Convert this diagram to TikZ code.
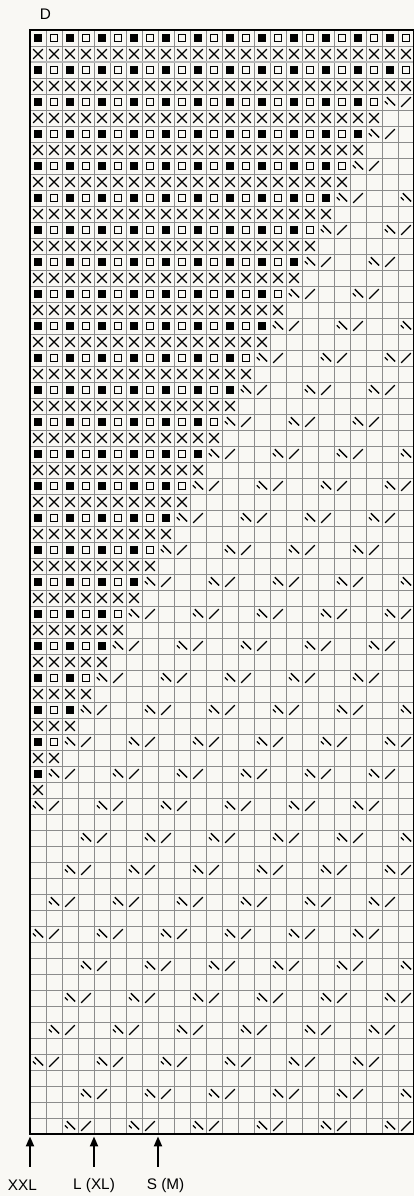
\documentclass[tikz,border=0pt]{standalone}
\usepackage{fontspec}
\setmainfont{Liberation Sans}
\usetikzlibrary{arrows.meta}

\definecolor{paper}{RGB}{249,248,244}

\begin{document}
\begin{tikzpicture}[
  x=12pt, y=-12pt,
  font=\fontsize{11.5}{13}\selectfont,
  gridln/.style={black!45,line width=0.7pt},
  sepln/.style={black!28,line width=1.6pt},
  frame/.style={line width=2.2pt},
  sizearr/.style={-{Triangle[length=7.5pt,width=6pt]},line width=1.5pt},
  kst/.pic={\fill (-.22,-.22) rectangle (.22,.22);},
  pst/.pic={\draw[line width=1.2pt] (-.22,-.22) rectangle (.22,.22);},
  xst/.pic={\draw[line width=1pt] (-.3,-.3) -- (.3,.3) (-.3,.3) -- (.3,-.3);},
  ssk/.pic={\draw[line width=1pt] (-.2,-.3) -- (.32,.22) (-.32,-.04) -- (-.14,.14);},
  k2tog/.pic={\draw[line width=1pt] (-.3,.3) -- (.3,-.3);}
]
\useasboundingbox[fill=paper] (-1.875,-1.875) rectangle (24,72.875);

% chart grid
\foreach \c in {1,...,23} \draw[gridln] (\c,0) -- (\c,69);
\foreach \r in {1,...,68} \draw[gridln] (0,\r) -- (24,\r);
\draw[sepln] (0,2) -- (24,2);

% right-side rows: knit/purl, then decreases
\foreach \r in {1,3,...,69} {
  \pgfmathtruncatemacro\k{\r<5 ? 24 : 22-(\r-5)/2}
  \ifnum\k>0
    \foreach \c in {1,...,\k} {
      \ifodd\c\relax \pic at (\c-.5,\r-.5) {kst}; \else \pic at (\c-.5,\r-.5) {pst}; \fi
    }
  \fi
  \ifnum\r>3
    \foreach \m in {0,...,9} {
      \pgfmathtruncatemacro\c{\k+1+4*\m}
      \ifnum\c>0
        \ifnum\c<25 \pic at (\c-.5,\r-.5) {ssk}; \fi
        \ifnum\c<24 \pic at (\c+.5,\r-.5) {k2tog}; \fi
      \fi
    }
  \fi
}
% wrong-side rows
\foreach \r in {2,4,...,68} {
  \pgfmathtruncatemacro\j{\r<5 ? 24 : 22-(\r-6)/2}
  \ifnum\j>0
    \foreach \c in {1,...,\j} \pic at (\c-.5,\r-.5) {xst};
  \fi
}

\draw[frame] (0,0) rectangle (24,69);

\node (dlab) at (0.97,-0.97) {D};

% size marks
\coordinate (xxl) at (0,69.15);
\coordinate (lxl) at (4,69.15);
\coordinate (sm)  at (8,69.15);
\coordinate (xxlb) at (0,71.06);
\coordinate (lxlb) at (4,71.06);
\coordinate (smb)  at (8,71.06);
\draw[sizearr] (xxlb) -- (xxl);
\draw[sizearr] (lxlb) -- (lxl);
\draw[sizearr] (smb) -- (sm);
\node (labxxl) at (-0.47,72.19) {XXL};
\node (lablxl) at (4,72.19) {L (XL)};
\node (labsm)  at (8.47,72.19) {S (M)};
\end{tikzpicture}
\end{document}
